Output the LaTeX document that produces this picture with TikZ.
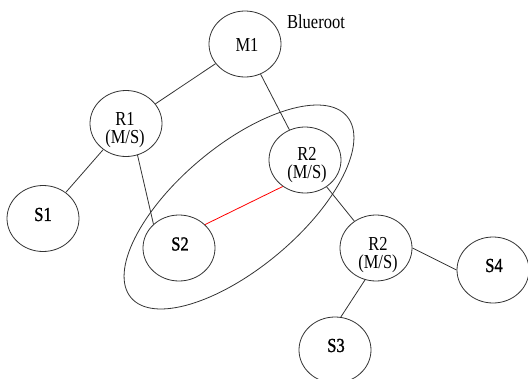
\documentclass[tikz,border=0pt]{standalone}
\usepackage{fontspec}
\usepackage{graphicx}
\setmainfont{Liberation Serif}
\newfontfamily\semibold[FakeBold=1.3]{Liberation Serif}
\usetikzlibrary{shapes.geometric}

% slightly tall serif labels
\newcommand{\tallbox}[1]{\scalebox{1}[1.2]{#1}}
\newcommand{\twoline}[2]{\tallbox{\begin{tabular}{@{}c@{}}#1\\[-3pt]#2\end{tabular}}}

\tikzset{
  cell/.style={ellipse, draw=black!80, line width=0.8pt, minimum width=72pt,
               minimum height=66pt, inner sep=0pt},
  lbl/.style={inner sep=0pt, font=\fontsize{16.5}{18.5}\selectfont},
  slbl/.style={inner sep=0pt, font=\fontsize{16.5}{18.5}\semibold},
  link/.style={draw=black!80, line width=0.8pt},
  redlink/.style={draw=red, line width=0.8pt},
}

\begin{document}
\begin{tikzpicture}[x=1pt, y=-1pt]
\useasboundingbox (0,0) rectangle (528,378);

% nodes
\node[cell] (m1)  at (245,44)    {};
\node[cell] (r1)  at (126,123.5) {};
\node[cell] (s1)  at (43,218.5)  {};
\node[cell] (s2)  at (179,248)   {};
\node[cell] (r2)  at (305,160)   {};
\node[cell] (r2b) at (376,248)   {};
\node[cell] (s4)  at (493,270)   {};
\node[cell] (s3)  at (335,350)   {};

% labels
\node[lbl]  (m1t)  at (247,44.5)  {\tallbox{M1}};
\node[lbl]  (r1t)  at (125,130)   {\twoline{R1}{(M/S)}};
\node[lbl]  (r2t)  at (307,165)   {\twoline{R2}{(M/S)}};
\node[lbl]  (r2bt) at (378,255)   {\twoline{R2}{(M/S)}};
\node[slbl] (s1t)  at (43,214.5)  {\tallbox{S1}};
\node[slbl] (s2t)  at (180,244)   {\tallbox{S2}};
\node[slbl] (s4t)  at (494,265.5) {\tallbox{S4}};
\node[slbl] (s3t)  at (336,345.5) {\tallbox{S3}};
\node[lbl]  (root) at (316,22)    {\tallbox{Blueroot}};

% connectors
\draw[link] (m1) -- (r1);
\draw[link] (m1) -- (r2);
\draw[link] (r1) -- (s1);
\draw[link] (r1.-70) -- (s2.137);
\draw[link] (r2) -- (r2b);
\draw[link] (r2b.east) -- (s4.west);
\draw[link] (r2b.-109) -- (s3.80);
\draw[redlink] (s2.42) -- (r2.230);

% group outline
\draw[link, rotate around={40:(239,207)}] (239,207) ellipse [x radius=141, y radius=61];
\end{tikzpicture}
\end{document}
